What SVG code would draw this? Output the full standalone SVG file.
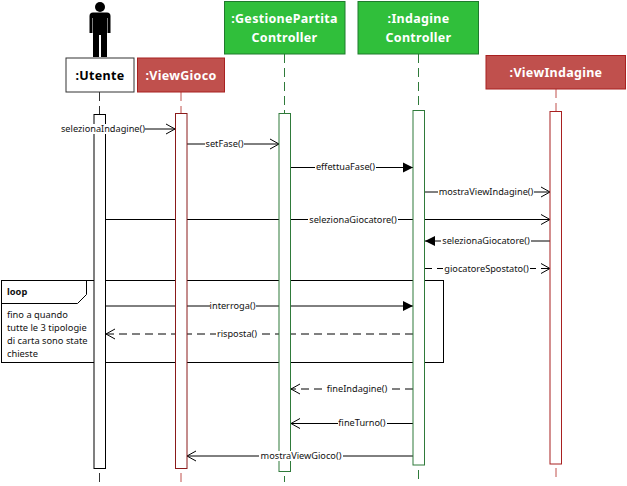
<svg xmlns="http://www.w3.org/2000/svg" width="627" height="486" viewBox="0 0 627 486">
<defs>
<marker id="open" markerUnits="userSpaceOnUse" markerWidth="12" markerHeight="12" refX="10" refY="6" orient="auto"><path d="M1 1L10 6L1 11" fill="none" stroke="#000" stroke-width="1"/></marker>
<marker id="solid" markerUnits="userSpaceOnUse" markerWidth="12" markerHeight="12" refX="10" refY="6" orient="auto"><path d="M0 1L10 6L0 11Z" fill="#000"/></marker>
</defs>
<style>
text{font-family:"Noto Sans","Liberation Sans",sans-serif}
.t{font-size:12.500px;font-weight:700;text-anchor:middle;letter-spacing:.3px}
.w{fill:#fff}
.m{font-size:9.200px;text-anchor:middle;fill:#111}
.l{font-size:9.300px;fill:#111}
.msg{fill:none;stroke:#000;stroke-width:1;marker-end:url(#open)}
.fill{marker-end:url(#solid)}
.d{stroke-dasharray:8 5}
.life{fill:none;stroke-width:1;stroke-dasharray:9 5}
.bar{fill:#fff;stroke-width:1}
.grn{fill:#30bf3b;stroke:#1f7a2c}
.red{fill:#c0504d;stroke:#a82020}
.lab{fill:#fff}
</style>
<rect width="627" height="486" fill="#fff"/>
<g id="lifelines">
<path class="life" stroke="#333" d="M99.500 92V114M99.500 473V482"/>
<path class="life" stroke="#c0504d" d="M181 92V113M181 473V482"/>
<path class="life" stroke="#2f7a3a" d="M284.500 54V113M284.500 476V482"/>
<path class="life" stroke="#2f7a3a" d="M418.500 54V110M418.500 470V480"/>
<path class="life" stroke="#c0504d" d="M556 89V111M556 468V480"/>
</g>
<g id="loop-frame" fill="none" stroke="#000">
<rect x="1.500" y="280.500" width="442" height="82"/>
<path d="M1.500 303.500H77.500L86.500 294.500V280.500"/>
<text class="l" x="7" y="295" stroke="none" fill="#111" font-weight="700">loop</text>
<g stroke="none" fill="#111">
<text class="l" x="7" y="318">fino a quando</text>
<text class="l" x="7" y="331">tutte le 3 tipologie</text>
<text class="l" x="7" y="344">di carta sono state</text>
<text class="l" x="7" y="357">chieste</text>
</g>
</g>
<g id="connectors">
<path class="msg" d="M105 129H175"/>
<path class="msg" d="M187 144H279"/>
<path class="msg fill" d="M290 167.500H413"/>
<path class="msg" d="M424 192H550"/>
<path class="msg" d="M105 219.500H550"/>
<path class="msg fill" d="M550 241H425"/>
<path class="msg d" d="M424 268.500H550"/>
<path class="msg fill" d="M105 306H413"/>
<path class="msg d" d="M413 334H106"/>
<path class="msg d" d="M413 389H291"/>
<path class="msg" d="M413 423.500H291"/>
<path class="msg" d="M413 456H187"/>
</g>
<g id="act-utente"><rect class="bar" stroke="#000" x="94" y="114.500" width="11.500" height="354"/></g>
<g id="act-viewgioco"><rect class="bar" stroke="#8a1a1a" x="175.500" y="113.500" width="11.500" height="355"/></g>
<g id="act-gestione"><rect class="bar" stroke="#2f7a3a" x="279" y="113.500" width="11.500" height="358"/></g>
<g id="act-indagine"><rect class="bar" stroke="#2f7a3a" x="413" y="110.500" width="11.500" height="354.500"/></g>
<g id="act-viewindagine"><rect class="bar" stroke="#a82020" x="550" y="111.500" width="11.500" height="352.500"/></g>
<g id="labels">
<rect class="lab" x="61" y="124" width="84" height="10"/><text class="m" x="103" y="132">selezionaIndagine()</text>
<rect class="lab" x="205" y="139" width="39" height="10"/><text class="m" x="224.500" y="147">setFase()</text>
<rect class="lab" x="315" y="162" width="61" height="10"/><text class="m" x="345.500" y="170">effettuaFase()</text>
<rect class="lab" x="438" y="187" width="96" height="10"/><text class="m" x="486" y="195">mostraViewIndagine()</text>
<rect class="lab" x="308" y="214" width="90" height="10"/><text class="m" x="353" y="223">selezionaGiocatore()</text>
<rect class="lab" x="441" y="236" width="90" height="10"/><text class="m" x="486" y="244">selezionaGiocatore()</text>
<rect class="lab" x="443" y="263" width="87" height="10"/><text class="m" x="486.500" y="272">giocatoreSpostato()</text>
<rect class="lab" x="210" y="301" width="46" height="10"/><text class="m" x="232.500" y="309">interroga()</text>
<rect class="lab" x="216" y="329" width="42" height="10"/><text class="m" x="237" y="337">risposta()</text>
<rect class="lab" x="327" y="384" width="61" height="10"/><text class="m" x="357" y="392">fineIndagine()</text>
<rect class="lab" x="338" y="418" width="49" height="10"/><text class="m" x="362" y="426">fineTurno()</text>
<rect class="lab" x="259" y="451" width="84" height="10"/><text class="m" x="301" y="459">mostraViewGioco()</text>
</g>
<g id="actor" fill="#000">
<circle cx="100" cy="7" r="5"/>
<path d="M93 12.500H107Q110.500 12.500 110.500 16V33H107.500V18H107V57H101V35H99V57H93V18H92.500V33H89.500V16Q89.500 12.500 93 12.500Z"/>
</g>
<g id="utente"><rect x="66" y="58" width="68" height="34" fill="#fff" stroke="#333"/><text class="t" x="100" y="80">:Utente</text></g>
<g id="viewgioco"><rect class="red" x="137.500" y="58" width="87" height="34"/><text class="t w" x="181" y="80">:ViewGioco</text></g>
<g id="gestione"><rect class="grn" x="224.500" y="1.500" width="120.500" height="52.500"/><text class="t w" x="284.500" y="23">:GestionePartita</text><text class="t w" x="284.500" y="42">Controller</text></g>
<g id="indagine"><rect class="grn" x="358" y="1.500" width="120.500" height="52.500"/><text class="t w" x="418.500" y="23">:Indagine</text><text class="t w" x="418.500" y="42">Controller</text></g>
<g id="viewindagine"><rect class="red" x="486" y="55.500" width="139.500" height="33.500"/><text class="t w" x="556" y="77">:ViewIndagine</text></g>
</svg>
